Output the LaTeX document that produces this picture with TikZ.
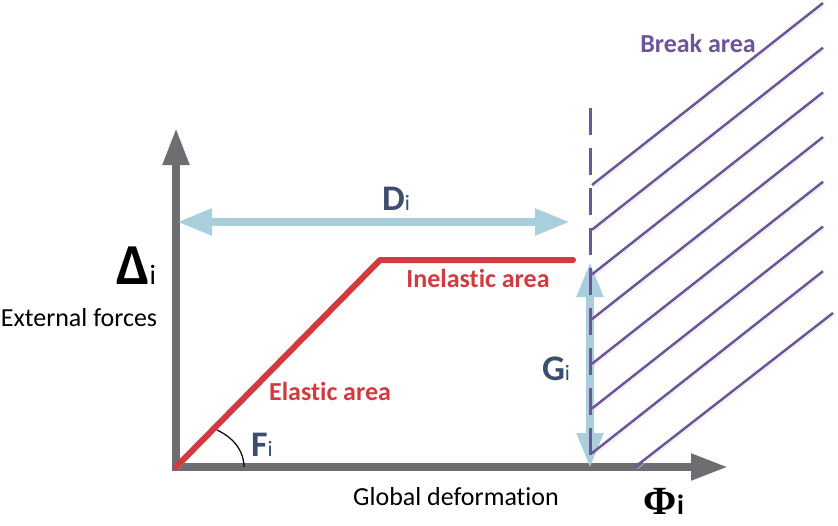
\documentclass[tikz,border=0pt]{standalone}
\usepackage{fontspec}
\setmainfont{Carlito}[Ligatures=NoCommon,RawFeature={-liga}]
\newfontfamily\phifont{Liberation Serif}
\usepackage{tikz}
\usetikzlibrary{arrows.meta}
\definecolor{AxisGray}{HTML}{6D6E71}
\definecolor{ShadowGray}{HTML}{DCDCDC}
\definecolor{CurveRed}{HTML}{D13B40}
\definecolor{ArrowBlue}{HTML}{A9CFDC}
\definecolor{BreakPurple}{HTML}{6E5499}
\definecolor{LabelNavy}{HTML}{3B4E6E}
\tikzset{
  drop/.style={preaction={draw=ShadowGray,transform canvas={shift={(2pt,-2pt)}}}},
  axis/.style={drop,draw=AxisGray,line width=8pt,line join=miter,
    {Triangle[length=37pt,width=25pt]}-{Triangle[length=37pt,width=25pt]}},
  curve/.style={drop,draw=CurveRed,line width=6pt,line cap=round,line join=round},
  span/.style={drop,draw=ArrowBlue,line width=8pt,
    {Triangle[length=35pt,width=25pt]}-{Triangle[length=35pt,width=25pt]}},
  hatch/.style={drop,draw=BreakPurple,line width=2.5pt},
  limit/.style={draw=BreakPurple,line width=3pt,dash pattern=on 27pt off 13pt},
  lbl/.style={inner sep=0pt,font=\fontsize{26}{26}\selectfont},
  tag/.style={lbl,font=\fontsize{26}{26}\selectfont\bfseries}
}
\newcommand{\sub}[3]{{\fontsize{#1}{#1}\selectfont\bfseries #2}{\fontsize{#3}{#3}\selectfont i}}

\begin{document}
\begin{tikzpicture}[x=1pt,y=-1pt]
\useasboundingbox (0,0) rectangle (838,525);
\coordinate (O) at (176,467);
\coordinate (ytop) at (176,128);
\coordinate (xend) at (728,467);
\coordinate (knee) at (380,260);
\coordinate (plat) at (573,260);
\coordinate (dl) at (177,222);
\coordinate (dr) at (570,222);
\coordinate (gt) at (590,262);
\coordinate (gb) at (590,468);
\coordinate (ltop) at (590,108);
\coordinate (lbot) at (590,467);
\coordinate (a1) at (217,430);
\coordinate (a2) at (244,467);
% axes and response curve
\draw[axis] (ytop) -- (O) -- (xend);
\draw[curve] (O) -- (knee) -- (plat);
\draw[black,line width=1.2pt] (a1) .. controls (236,439) and (244,453) .. (a2);
% spans
\draw[span] (dl) -- (dr);
\draw[span] (gt) -- (gb);
% break area
\draw[limit] (ltop) -- (lbot);
\foreach \k in {0,...,6}
  \draw[hatch] (592,185+44.7*\k) -- ++(231,-182);
\draw[hatch] (635,467) -- (833,313);
% labels
\node[tag,text=BreakPurple] (brk) at (698,43) {Break area};
\node[tag,text=CurveRed] (inel) at (478,278) {Inelastic area};
\node[tag,text=CurveRed] (el) at (330,391) {Elastic area};
\node[lbl] (ext) at (79,318) {External forces};
\node[lbl] (glob) at (456,497) {Global deformation};
\node[inner sep=0pt] (delta) at (136,266) {\sub{58}{Δ}{28}};
\node[inner sep=0pt,text=LabelNavy] (Di) at (396,199) {\sub{36}{D}{22}};
\node[inner sep=0pt,text=LabelNavy] (Gi) at (556,369) {\sub{36}{G}{22}};
\node[inner sep=0pt,text=LabelNavy] (Fi) at (262,445) {\sub{36}{F}{22}};
\node[inner sep=0pt] (phi) at (664,501) {{\fontsize{40}{40}\selectfont\phifont\bfseries Φ}{\fontsize{28}{28}\selectfont\bfseries i}};
\end{tikzpicture}
\end{document}
